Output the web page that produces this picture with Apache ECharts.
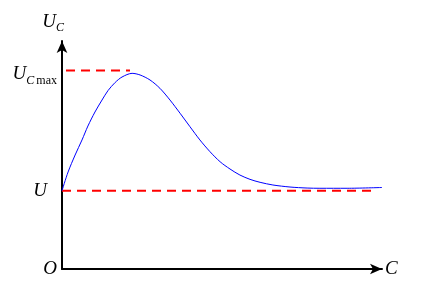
<!DOCTYPE html>
<html>
<head>
<meta charset="utf-8">
<script src="https://cdn.jsdelivr.net/npm/echarts@6/dist/echarts.min.js"></script>
<style>
html,body{margin:0;padding:0;background:#fff;}
#chart{width:424px;height:286px;}
</style>
</head>
<body>
<div id="chart"></div>
<script>
// Data (U = 1 unit on the vertical axis, C in arbitrary units)
const curveC  = [0, 0.19, 0.41, 0.625, 0.81, 1.03, 1.25, 1.44, 1.66, 1.875, 2.19, 2.44, 2.75, 3.06, 3.375, 3.69, 4.0, 4.31, 4.625, 4.94, 5.25, 5.56, 5.875, 6.19, 6.59, 7.125, 7.66, 8.06, 8.91, 10.0];
const curveUc = [1.0, 1.239, 1.456, 1.648, 1.826, 2.005, 2.158, 2.28, 2.382, 2.452, 2.499, 2.478, 2.414, 2.308, 2.158, 1.989, 1.817, 1.648, 1.498, 1.37, 1.277, 1.2, 1.145, 1.107, 1.073, 1.047, 1.034, 1.031, 1.031, 1.041];
const U = 1;
const UcMax = 2.535;
const uLineC = [0, 9.83];
const ucMaxLineC = [0.125, 2.125];
const xMax = 10;
const yMax = 2.912;
const yLabelValues = [0, U, UcMax];

const serif = 'Liberation Serif, "Times New Roman", serif';

const chart = echarts.init(document.getElementById('chart'), null, {renderer: 'canvas'});
const option = {
  animation: false,
  backgroundColor: '#fff',
  grid: {left: 62, right: 42, top: 41, bottom: 17, containLabel: false, outerBoundsMode: 'none'},
  xAxis: {
    type: 'value', min: 0, max: xMax,
    name: 'C', nameLocation: 'end', nameGap: 3,
    nameTextStyle: {fontFamily: serif, fontStyle: 'italic', fontSize: 19, color: '#000'},
    axisLine: {show: true, onZero: false, symbol: ['none', 'arrow'], symbolSize: [8, 12], lineStyle: {color: '#000', width: 2}},
    axisTick: {show: false}, axisLabel: {show: false}, splitLine: {show: false}
  },
  yAxis: {
    type: 'value', min: 0, max: yMax,
    name: '{u|U}{sub|C}', nameLocation: 'end', nameGap: 10,
    nameTextStyle: {
      align: 'right', color: '#000', padding: [0, -2, 0, 0],
      rich: {
        u: {fontFamily: serif, fontStyle: 'italic', fontSize: 19, color: '#000', lineHeight: 18},
        sub: {fontFamily: serif, fontStyle: 'italic', fontSize: 12, color: '#000', lineHeight: 12, padding: [12, 0, 0, 0]}
      }
    },
    axisLine: {show: true, onZero: false, symbol: ['none', 'arrow'], symbolSize: [8, 12], lineStyle: {color: '#000', width: 2}},
    axisTick: {show: false}, splitLine: {show: false},
    axisLabel: {
      show: true, margin: 5, customValues: yLabelValues,
      formatter: function (v) {
        if (Math.abs(v) < 1e-9) return '{o|O}';
        if (Math.abs(v - U) < 1e-9) return '{u|U}';
        return '{um|U}{sub|C}{mx|max}';
      },
      rich: {
        o: {fontFamily: serif, fontStyle: 'italic', fontSize: 19, color: '#000'},
        u: {fontFamily: serif, fontStyle: 'italic', fontSize: 19, color: '#000', padding: [0, 10, 0, 0]},
        um: {fontFamily: serif, fontStyle: 'italic', fontSize: 19, color: '#000', lineHeight: 18, padding: [6, 0, 0, 0]},
        sub: {fontFamily: serif, fontStyle: 'italic', fontSize: 12, color: '#000', lineHeight: 12, padding: [20, 0, 0, 0]},
        mx: {fontFamily: serif, fontSize: 12, color: '#000', lineHeight: 12, padding: [20, 0, 0, 2]}
      }
    }
  },
  series: [
    {
      type: 'line', data: uLineC.map(c => [c, U]), symbol: 'none', silent: true,
      lineStyle: {color: '#ff0000', width: 2, type: [9, 6]}, z: 2
    },
    {
      type: 'line', data: ucMaxLineC.map(c => [c, UcMax]), symbol: 'none', silent: true,
      lineStyle: {color: '#ff0000', width: 2, type: [9, 6]}, z: 2
    },
    {
      type: 'line', data: curveC.map((c, i) => [c, curveUc[i]]), symbol: 'none', silent: true,
      smooth: 0.3, lineStyle: {color: '#0000ff', width: 1}, z: 3
    }
  ]
};
chart.setOption(option);
</script>
</body>
</html>
